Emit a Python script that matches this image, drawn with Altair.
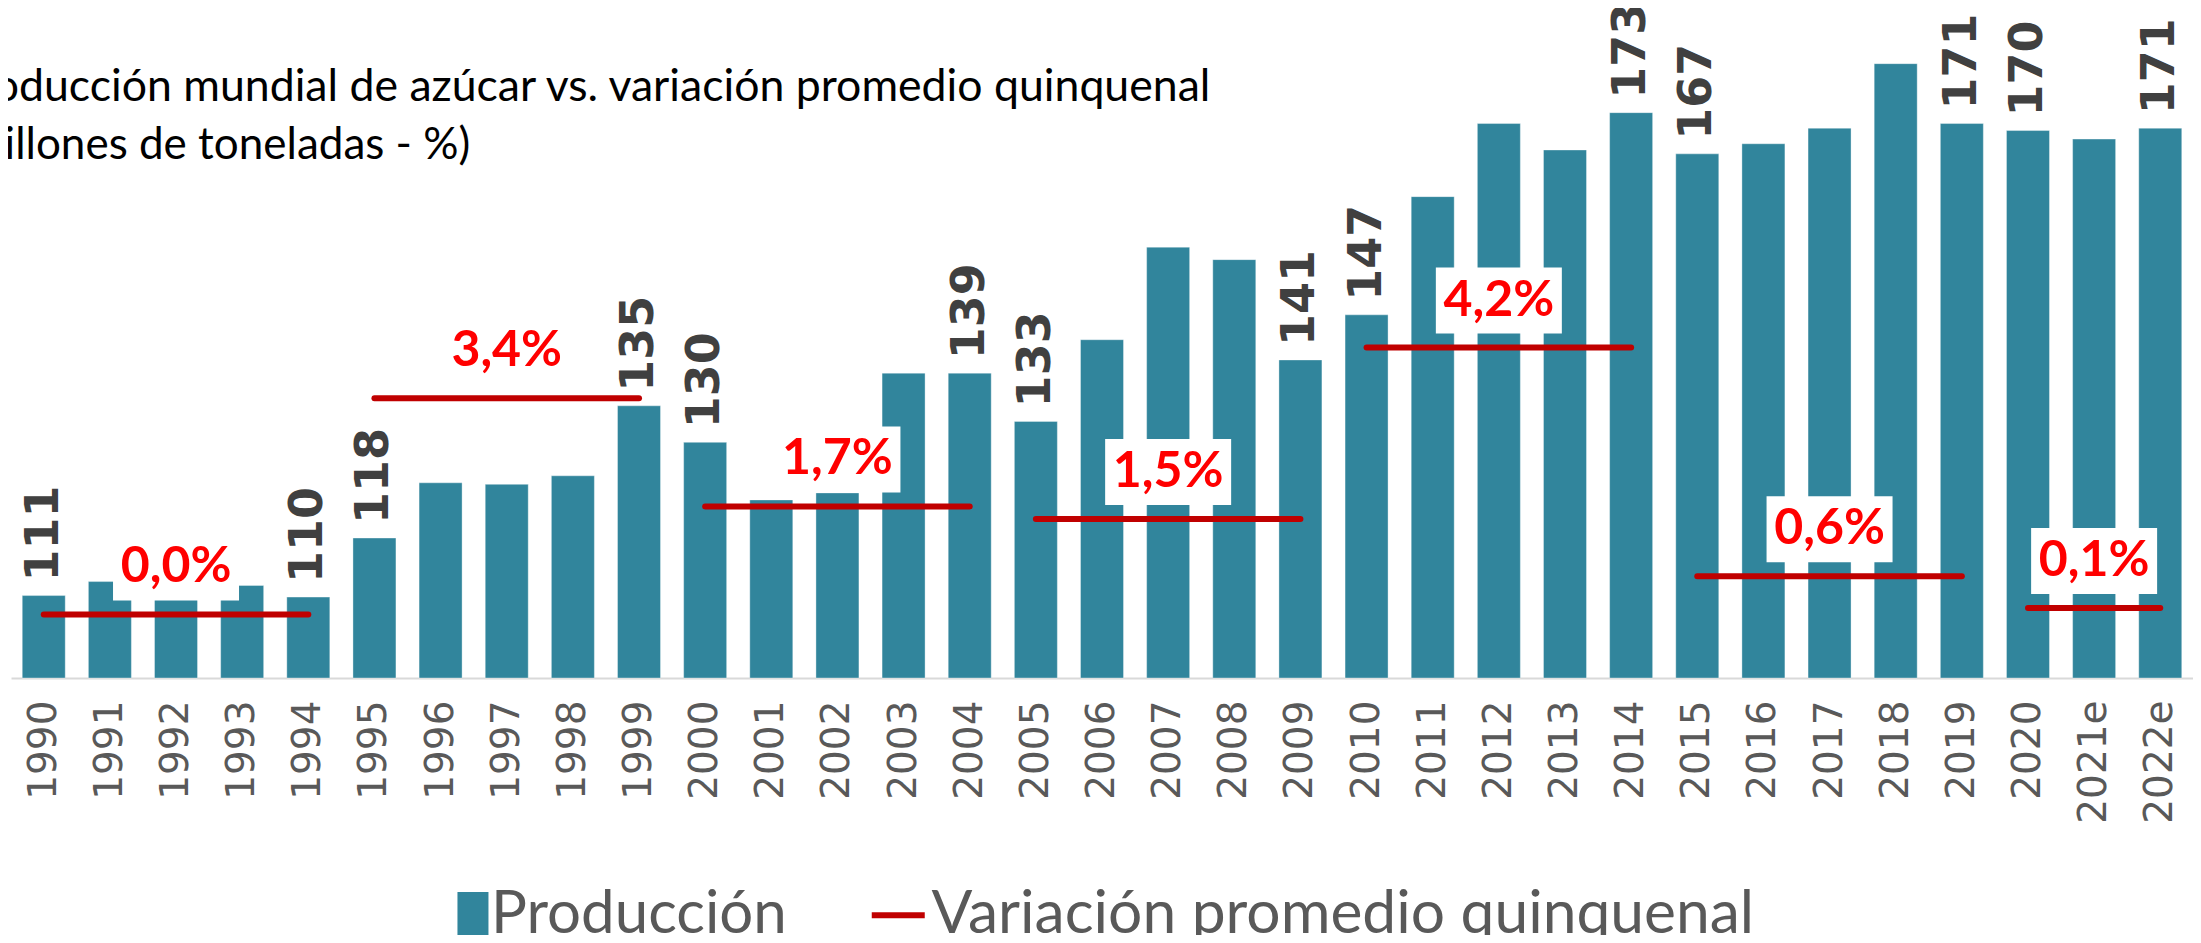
import altair as alt
import pandas as pd

# ---------------- data ----------------
years = ["1990", "1991", "1992", "1993", "1994", "1995", "1996", "1997", "1998", "1999",
         "2000", "2001", "2002", "2003", "2004", "2005", "2006", "2007", "2008", "2009",
         "2010", "2011", "2012", "2013", "2014", "2015", "2016", "2017", "2018", "2019",
         "2020", "2021e", "2022e"]
production = [110.6, 112.4, 112.0, 111.9, 110.4, 118.0, 125.1, 124.9, 126.0, 135.0,
              130.3, 122.9, 123.8, 139.2, 139.2, 133.0, 143.5, 155.4, 153.8, 140.9,
              146.7, 161.9, 171.3, 167.9, 172.7, 167.4, 168.7, 170.7, 179.0, 171.3,
              170.4, 169.3, 170.7]
labeled_years = ["1990", "1994", "1995", "1999", "2000", "2004", "2005", "2009",
                 "2010", "2014", "2015", "2019", "2020", "2022e"]

period_start = ["1990", "1995", "2000", "2005", "2010", "2015", "2020"]
period_end = ["1994", "1999", "2004", "2009", "2014", "2019", "2022e"]
period_mid = ["1992", "1997", "2002", "2007", "2012", "2017", "2021e"]
period_var = [0.0, 3.4, 1.7, 1.5, 4.2, 0.6, 0.1]

title_line1 = "Producción mundial de azúcar vs. variación promedio quinquenal"
title_line2 = "(millones de toneladas - %)"
serie_bar = "Producción"
serie_line = "Variación promedio quinquenal"

# ---------------- frames ----------------
df = pd.DataFrame({"year": years, "value": production, "serie": serie_bar})

line_rows = []
for i, (s, e, v) in enumerate(zip(period_start, period_end, period_var)):
    line_rows.append({"period": i, "year": s, "v": v, "serie": serie_line})
    line_rows.append({"period": i, "year": e, "v": v, "serie": serie_line})
df_lines = pd.DataFrame(line_rows)
df_mid = pd.DataFrame({"year": period_mid, "v": period_var})

TEAL = "#31859C"
RED_LINE = "#C00000"
RED_TXT = "#FF0000"

x_enc = alt.X(
    "year:N",
    sort=years,
    scale=alt.Scale(domain=years, paddingInner=0.35, paddingOuter=0.17),
    axis=alt.Axis(
        title=None, labelAngle=-90, labelFont="DejaVu Sans", labelFontSize=39,
        labelColor="#595959", labelPadding=22, ticks=False, domainColor="#D9D9D9",
        domainWidth=2, grid=False,
    ),
)
y_prod = alt.Scale(domain=[100, 185], zero=False, nice=False)
y_pct = alt.Scale(domain=[-1, 9.4], zero=False, nice=False)

base = alt.Chart(df)

bars = base.mark_bar(stroke="#FFFFFF", strokeWidth=0.6, strokeOpacity=0.6).encode(
    x=x_enc,
    y=alt.Y("value:Q", scale=y_prod, axis=None),
    y2=alt.datum(100),
    fill=alt.Fill(
        "serie:N",
        scale=alt.Scale(domain=[serie_bar], range=[TEAL]),
        legend=alt.Legend(
            orient="none", legendX=420, legendY=868, title=None, padding=0,
            labelFont="Lato", labelFontSize=60, labelColor="#595959", labelOffset=0,
            labelLimit=0,
            symbolType="M-0.154,-1L1.194,-1L1.194,1L-0.154,1Z", symbolSize=2116,
            symbolStrokeWidth=0,
        ),
    ),
)

bar_labels = base.transform_filter(
    alt.FieldOneOfPredicate(field="year", oneOf=labeled_years)
).mark_text(
    angle=270, align="left", baseline="middle", dx=14,
    font="DejaVu Sans", fontWeight="bold", fontSize=46, color="#404040",
).encode(
    x=alt.X("year:N", sort=years),
    y=alt.Y("value:Q", scale=y_prod, axis=None),
    text=alt.Text("value:Q", format=".0f"),
)

lines = alt.Chart(df_lines).mark_line(strokeWidth=6, strokeCap="round").encode(
    x=alt.X("year:N", sort=years),
    y=alt.Y("v:Q", scale=y_pct, axis=None),
    detail="period:N",
    stroke=alt.Stroke(
        "serie:N",
        scale=alt.Scale(domain=[serie_line], range=[RED_LINE]),
        legend=alt.Legend(
            orient="none", legendX=857, legendY=868, title=None, padding=0,
            labelFont="Lato", labelFontSize=60.5, labelColor="#595959", labelOffset=3,
            labelLimit=0,
            symbolType="stroke", symbolSize=2809, symbolStrokeWidth=6,
        ),
    ),
)

boxes = alt.Chart(df_mid).mark_point(
    shape="M-1,-0.524L1,-0.524L1,0.524L-1,0.524Z",
    filled=True, fill="#FFFFFF", opacity=1, size=126 * 126, strokeWidth=0, yOffset=-47,
).encode(
    x=alt.X("year:N", sort=years),
    y=alt.Y("v:Q", scale=y_pct, axis=None),
)

pct_text = alt.Chart(df_mid).transform_calculate(
    label="replace(format(datum.v, '.1f'), '.', ',') + '%'"
).mark_text(
    font="Lato", fontWeight="bold", fontSize=50, color=RED_TXT,
    baseline="middle", align="center", yOffset=-47,
).encode(
    x=alt.X("year:N", sort=years),
    y=alt.Y("v:Q", scale=y_pct, axis=None),
    text="label:N",
)

title1 = alt.Chart(pd.DataFrame({"t": [title_line1]})).mark_text(
    align="left", baseline="alphabetic", font="Lato", fontSize=44.6, color="#000000",
).encode(text="t:N", x=alt.value(-59), y=alt.value(84))

title2 = alt.Chart(pd.DataFrame({"t": [title_line2]})).mark_text(
    align="left", baseline="alphabetic", font="Lato", fontSize=44, color="#000000",
).encode(text="t:N", x=alt.value(-54), y=alt.value(142))

chart = alt.layer(bars, bar_labels, lines, boxes, pct_text, title1, title2).resolve_scale(
    y="independent"
).properties(
    width=2182, height=661,
    autosize=alt.AutoSizeParams(type="none"),
    padding={"left": 3, "top": 9, "right": 0, "bottom": 257},
    background="#FFFFFF",
).configure_view(stroke=None)

chart.save("out.html", embed_options={"renderer": "svg", "actions": False})
